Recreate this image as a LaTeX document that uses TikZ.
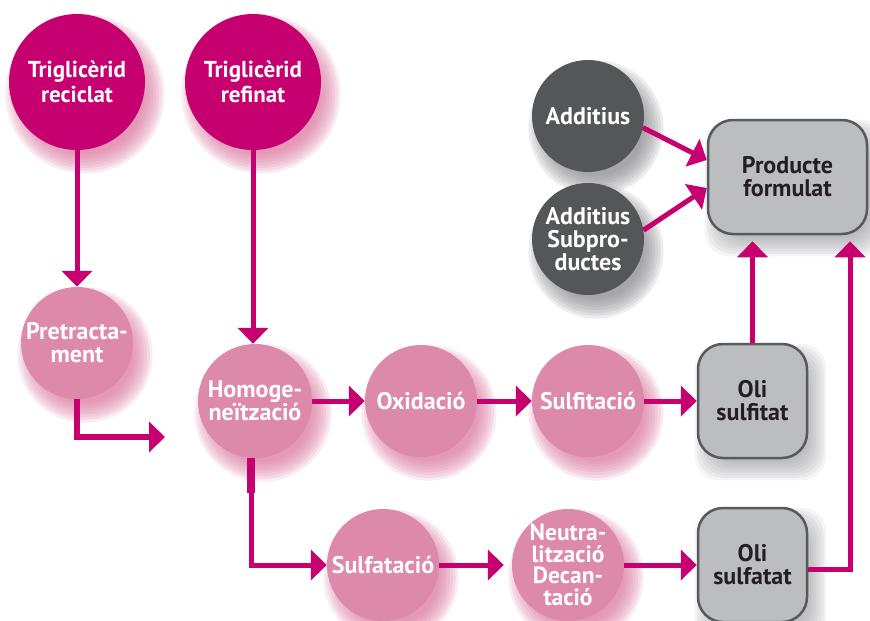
\documentclass[tikz,border=0pt]{standalone}
\usepackage{fontspec}
\setmainfont{PT Sans}
\usetikzlibrary{arrows.meta,backgrounds}
\definecolor{mag}{RGB}{198,0,111}
\definecolor{pinkc}{RGB}{221,137,169}
\definecolor{darkc}{RGB}{85,86,90}
\definecolor{boxc}{RGB}{188,189,193}
\definecolor{boxb}{RGB}{88,89,91}
\definecolor{boxt}{RGB}{35,31,32}
\definecolor{shpink}{RGB}{215,110,152}
\definecolor{shgrey}{RGB}{130,130,136}
\newcommand\cshadow[3]{\foreach \k in {0,...,7}{\fill[#2,fill opacity=0.14] ([xshift=8pt,yshift=-12pt]#1.center) circle[radius={#3pt-8pt+\k*2.8pt}];}}
\newcommand\bshadow[1]{\foreach \k in {0,...,7}{\pgfmathsetmacro\dd{8-\k*2.6}\pgfmathsetmacro\ax{8+\dd}\pgfmathsetmacro\ay{-11+\dd}\pgfmathsetmacro\bx{8-\dd}\pgfmathsetmacro\by{-11-\dd}\fill[shgrey,fill opacity=0.09,rounded corners=25pt] ([xshift=\ax pt,yshift=\ay pt]#1.south west) rectangle ([xshift=\bx pt,yshift=\by pt]#1.north east);}}
\begin{document}
\begin{tikzpicture}[x=1pt,y=-1pt,
  lab/.style={font=\fontsize{24}{23}\selectfont\bfseries, align=center, inner sep=0pt},
  magc/.style={circle, fill=mag, minimum size=136pt, text=white, lab},
  pinkn/.style={circle, fill=pinkc, minimum size=112pt, text=white, lab},
  darkn/.style={circle, fill=darkc, minimum size=112pt, text=white, lab},
  boxn/.style={rectangle, rounded corners=25pt, fill=boxc, draw=boxb, line width=2.5pt, text=boxt, lab, minimum width=109pt, minimum height=114pt},
  arr/.style={draw=mag, line width=5pt, -{Triangle[length=16pt,width=30pt]}},
  ln/.style={draw=mag, line width=5pt}]
\useasboundingbox (0,0) rectangle (870,621);
\clip (0,0) rectangle (870,621);
\node[magc, font=\fontsize{23}{25}\selectfont\bfseries] (trc) at (77,82) {Triglicèrid\\reciclat};
\node[magc, font=\fontsize{23}{25}\selectfont\bfseries] (trf) at (253,82) {Triglicèrid\\refinat};
\node[pinkn] (pre) at (77,343) {Pretracta-\\ment};
\node[pinkn, minimum size=114pt] (hom) at (255,401) {Homoge-\\neïtzació};
\node[pinkn] (oxi) at (421,401) {Oxidació};
\node[pinkn] (sfi) at (588,401) {Sulfitació};
\node[pinkn] (sfa) at (383,565) {Sulfatació};
\node[pinkn, font=\fontsize{23.5}{21.5}\selectfont\bfseries] (neu) at (568,565) {Neutra-\\lització\\Decan-\\tació};
\node[boxn] (osi) at (752.5,401) {Oli\\sulfitat};
\node[boxn] (osa) at (752.5,565) {Oli\\sulfatat};
\node[darkn] (add) at (588,116) {Additius};
\node[darkn] (asp) at (588,239) {Additius\\Subpro-\\ductes};
\node[boxn, minimum width=159pt] (prod) at (787.5,177) {Producte\\formulat};
\coordinate (preend) at (165,437);
\begin{scope}[on background layer]
  \cshadow{trc}{shpink}{68}
  \cshadow{trf}{shpink}{68}
  \cshadow{pre}{shpink}{56}
  \cshadow{hom}{shpink}{57}
  \cshadow{oxi}{shpink}{56}
  \cshadow{sfi}{shpink}{56}
  \cshadow{sfa}{shpink}{56}
  \cshadow{neu}{shpink}{56}
  \cshadow{add}{shgrey}{56}
  \cshadow{asp}{shgrey}{56}
  \bshadow{osi}
  \bshadow{osa}
  \bshadow{prod}
\end{scope}
\draw[arr] (trc) -- (pre);
\draw[arr] (trf.south) -- (trf.south |- hom.north);
\draw[arr, line width=6pt] (pre.south) |- (preend);
\draw[arr] (hom) -- (oxi);
\draw[arr] (oxi) -- (sfi);
\draw[arr] (sfi) -- (osi);
\draw[ln, line width=8pt] ([xshift=-4pt]hom.south) -- ++(0,35);
\draw[arr] ([xshift=-4pt]hom.south) |- (sfa.west);
\draw[arr, shorten >=8pt] (sfa) -- (neu);
\draw[arr] (neu) -- (osa);
\draw[arr, shorten >=6pt] (osi.north) -- (osi.north |- prod.south);
\draw[arr, shorten >=6pt] ([yshift=-4pt]osa.east) -| ([xshift=62.5pt]prod.south);
\draw[arr] (add.-12) -- ([yshift=17pt]prod.west);
\draw[arr] (asp.9) -- ([yshift=-11pt]prod.west);
\end{tikzpicture}
\end{document}
